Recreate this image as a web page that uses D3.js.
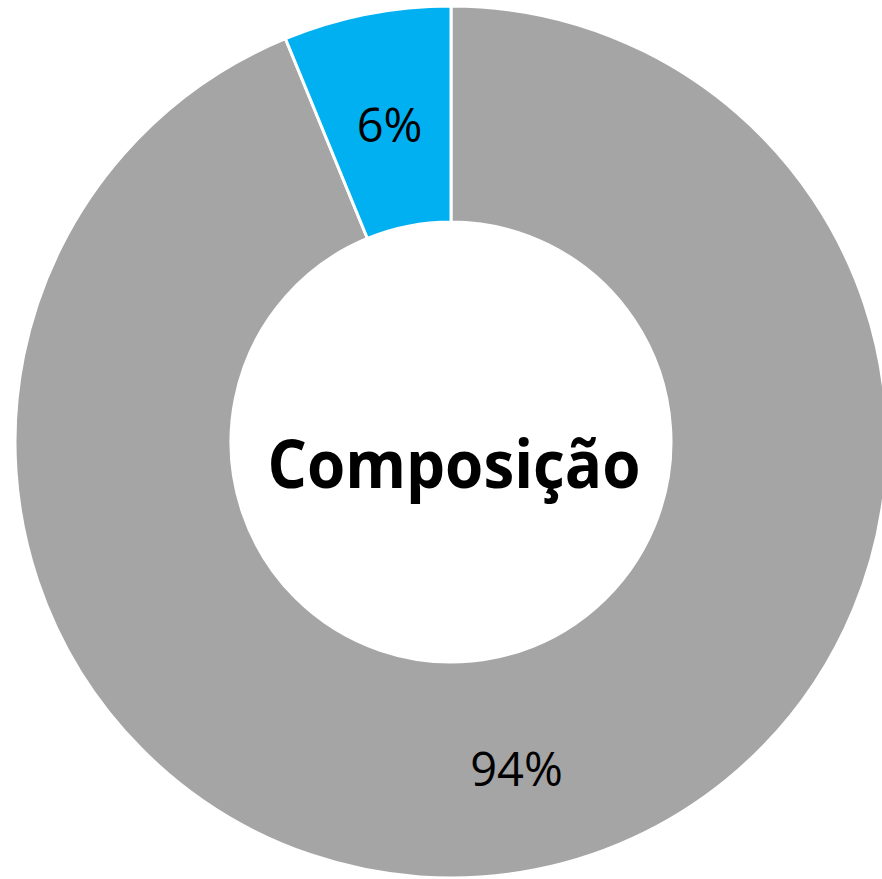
<!DOCTYPE html>
<html>
<head>
<meta charset="utf-8">
<script src="https://cdn.jsdelivr.net/npm/d3@7/dist/d3.min.js"></script>
<style>
  html, body { margin: 0; padding: 0; background: #fff; overflow: hidden; }
</style>
</head>
<body>
<div id="chart"></div>
<script>
// Data
var categories = ['Outros', 'Destaque'];
var values = [93.8, 6.2];
var colors = ['#A5A5A5', '#00B0F0'];
var centerTitle = 'Composição';

var width = 882, height = 879;
var cx = 451, cy = 442,
    outerR = 436, innerR = 220;

var svg = d3.select('#chart').append('svg')
    .attr('width', width)
    .attr('height', height)
  .append('g')
    .attr('transform', 'translate(' + cx + ',' + cy + ')');

var data = categories.map(function(c, i) { return {name: c, value: values[i], color: colors[i]}; });
var total = d3.sum(values);

var pie = d3.pie()
    .sort(null)
    .value(function(d) { return d.value; });

var arc = d3.arc()
    .innerRadius(innerR)
    .outerRadius(outerR);

var labelArc = d3.arc()
    .innerRadius((innerR + outerR) / 2)
    .outerRadius((innerR + outerR) / 2);

var slices = pie(data);

svg.selectAll('.slice')
    .data(slices)
  .enter().append('path')
    .attr('class', 'slice')
    .attr('d', arc)
    .attr('fill', function(d) { return d.data.color; })
    .attr('stroke', '#fff')
    .attr('stroke-width', 3);

var fmt = d3.format('.0%');

svg.selectAll('.label')
    .data(slices)
  .enter().append('text')
    .attr('class', 'label')
    .attr('transform', function(d) {
        var c = labelArc.centroid(d);
        return 'translate(' + (c[0] + 2) + ',' + (c[1] + 4) + ')';
    })
    .attr('text-anchor', 'middle')
    .attr('dominant-baseline', 'central')
    .style('font-family', '"Open Sans", sans-serif')
    .style('font-size', '47px')
    .attr('fill', '#000')
    .text(function(d) { return fmt(d.data.value / total); });

// centre title
svg.append('text')
    .attr('x', 3)
    .attr('y', 20)
    .attr('text-anchor', 'middle')
    .attr('dominant-baseline', 'central')
    .style('font-family', '"Open Sans", sans-serif')
    .style('font-weight', 'bold')
    .style('font-size', '66px')
    .attr('textLength', 373)
    .attr('lengthAdjust', 'spacingAndGlyphs')
    .attr('fill', '#000')
    .text(centerTitle);
</script>
</body>
</html>
